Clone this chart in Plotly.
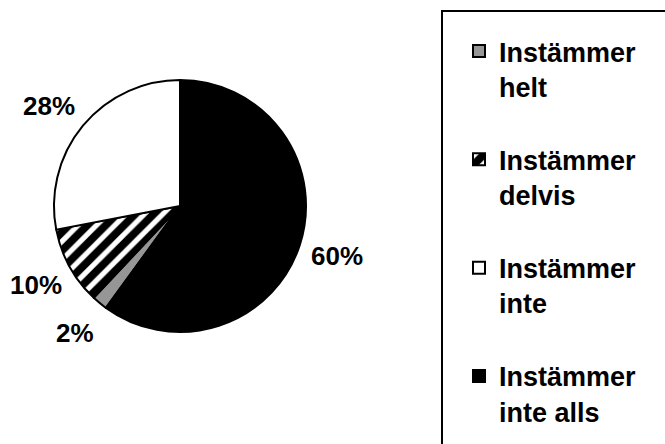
import plotly.graph_objects as go

# Survey answers (share of respondents, %)
labels = ["Instämmer helt", "Instämmer delvis", "Instämmer inte", "Instämmer inte alls"]
legend_text = ["Instämmer<br>helt<br> ", "Instämmer<br>delvis<br> ", "Instämmer<br>inte<br> ", "Instämmer<br>inte alls"]
values = [2, 10, 28, 60]

# Label anchor points (pixels on the 665x444 canvas)
label_px = [(75, 333), (36, 285), (49, 106), (337, 256)]

W, H = 665, 444
FONT = "Liberation Sans, Arial, sans-serif"

fills = ["#969696", "white", "white", "black"]
shapes_pat = ["", "/", "", ""]

fig = go.Figure()
fig.add_trace(go.Pie(
    labels=legend_text,
    values=values,
    sort=False,
    direction="clockwise",
    rotation=216,
    textinfo="none",
    hoverinfo="label+percent",
    marker=dict(
        colors=fills,
        line=dict(color="black", width=2),
        pattern=dict(shape=shapes_pat, fgcolor="black", bgcolor="white",
                     size=13, solidity=0.6),
    ),
    domain=dict(x=[54 / W, 306 / W], y=[1 - 332 / H, 1 - 80 / H]),
))

total = sum(values)
annotations = []
for v, (px, py) in zip(values, label_px):
    annotations.append(dict(
        text=f"{round(100 * v / total)}%",
        x=px / W, y=1 - py / H, xref="paper", yref="paper",
        xanchor="center", yanchor="middle", showarrow=False,
        font=dict(family=FONT, size=26, color="black", weight="bold"),
    ))

fig.update_layout(
    width=W, height=H,
    margin=dict(l=0, r=0, t=0, b=0),
    paper_bgcolor="white",
    plot_bgcolor="white",
    showlegend=True,
    legend=dict(
        x=459 / W, xanchor="left",
        y=1 - 27 / H, yanchor="top",
        valign="top",
        font=dict(family=FONT, size=27, color="black", weight="bold"),
        bgcolor="rgba(0,0,0,0)",
        borderwidth=0,
    ),
    annotations=annotations,
    shapes=[dict(
        type="rect", xref="paper", yref="paper",
        x0=442 / W, x1=1.2, y0=-0.2, y1=1 - 11 / H,
        line=dict(color="black", width=2), fillcolor="rgba(0,0,0,0)",
        layer="below",
    )],
)

fig.write_html("out.html")
